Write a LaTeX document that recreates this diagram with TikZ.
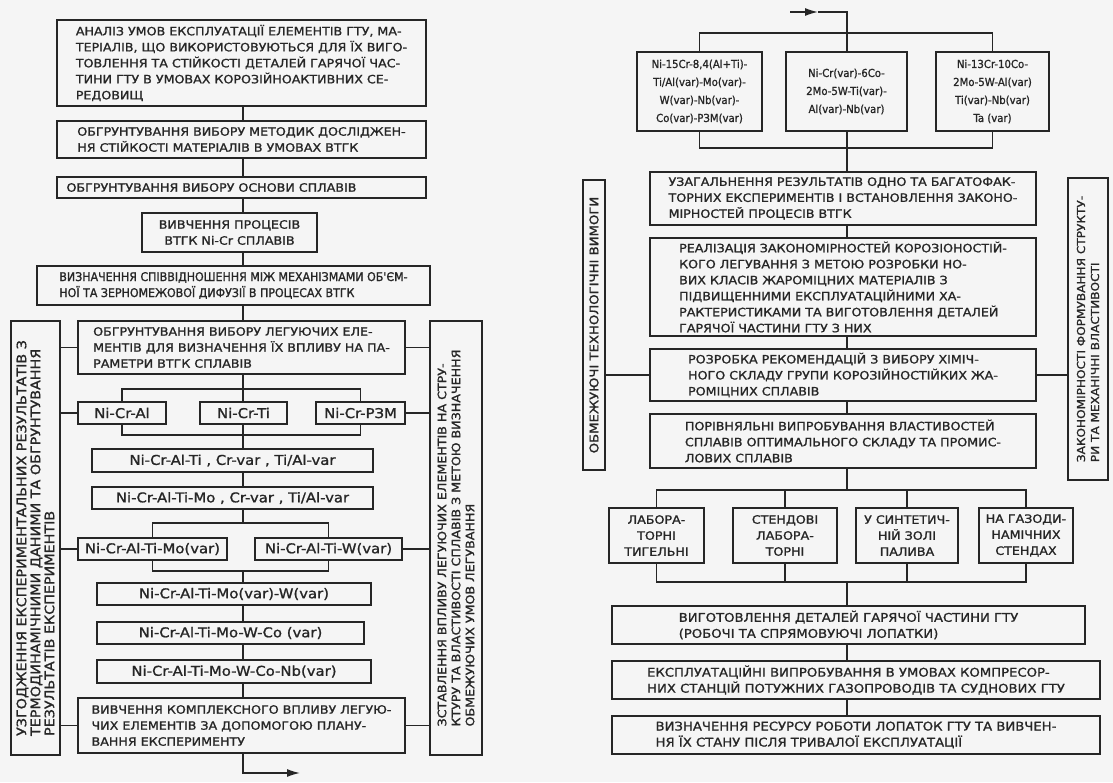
\documentclass[tikz,border=0pt]{standalone}
\usepackage{fontspec}
\newfontfamily\stencil[FakeStretch=1.1, FakeBold=1.2]{DejaVu Sans}
\newfontfamily\stencilnarrow[FakeStretch=0.92, FakeBold=1.2]{DejaVu Sans}
\usepackage{xcolor}
\colorlet{colorInk}{black!85}
\colorlet{colorPaper}{black!4}
\usepackage{tikz}
\usetikzlibrary{arrows.meta, positioning}
\tikzset{
  stage/.style={draw=colorInk, text=colorInk, line width=1.4pt, inner sep=0pt, align=left, font=\stencil\fontsize{11.5}{16}\selectfont},
  alloy/.style={stage, align=center, font=\stencil\fontsize{13.5}{15}\selectfont},
  recipe/.style={stage, align=center, font=\stencilnarrow\fontsize{11}{18}\selectfont},
  sidebar/.style={stage, rotate=90, font=\stencil\fontsize{13}{14}\selectfont},
}

\begin{document}
\begin{tikzpicture}[x=1pt, y=-1pt, >={Latex[length=13pt,width=8pt]}, color=colorInk, line width=1.4pt]
\useasboundingbox[fill=colorPaper] (0,0) rectangle (1113,782);
% left column
\node[stage, minimum width=369pt, minimum height=86pt] (anal) at (241.5,63) {АНАЛІЗ УМОВ ЕКСПЛУАТАЦІЇ ЕЛЕМЕНТІВ ГТУ, МА-\\ТЕРІАЛІВ, ЩО ВИКОРИСТОВУЮТЬСЯ ДЛЯ ЇХ ВИГО-\\ТОВЛЕННЯ ТА СТІЙКОСТІ ДЕТАЛЕЙ ГАРЯЧОЇ ЧАС-\\ТИНИ ГТУ В УМОВАХ КОРОЗІЙНОАКТИВНИХ СЕ-\\РЕДОВИЩ};
\node[stage, minimum width=369pt, minimum height=37pt] (metod) at (241.5,139.5) {ОБГРУНТУВАННЯ ВИБОРУ МЕТОДИК ДОСЛІДЖЕН-\\НЯ СТІЙКОСТІ МАТЕРІАЛІВ В УМОВАХ ВТГК};
\node[stage, minimum width=369pt, minimum height=21pt] (osn) at (241.5,187.5) {ОБГРУНТУВАННЯ ВИБОРУ ОСНОВИ СПЛАВІВ\hspace{60pt}};
\node[stage, align=center, minimum width=175pt, minimum height=39pt] (proc) at (229.5,232.5) {ВИВЧЕННЯ ПРОЦЕСІВ\\ВТГК Ni-Cr СПЛАВІВ};
\node[stage, font=\stencilnarrow\fontsize{12}{16}\selectfont, minimum width=393pt, minimum height=39pt] (dyf) at (233.5,285.5) {ВИЗНАЧЕННЯ СПІВВІДНОШЕННЯ МІЖ МЕХАНІЗМАМИ ОБ'ЄМ-\\НОЇ ТА ЗЕРНОМЕЖОВОЇ ДИФУЗІЇ В ПРОЦЕСАХ ВТГК};
\node[stage, minimum width=327pt, minimum height=53pt] (leg) at (241.5,347.5) {ОБГРУНТУВАННЯ ВИБОРУ ЛЕГУЮЧИХ ЕЛЕ-\\МЕНТІВ ДЛЯ ВИЗНАЧЕННЯ ЇХ ВПЛИВУ НА ПА-\\РАМЕТРИ ВТГК СПЛАВІВ};
\node[alloy, minimum width=88pt, minimum height=22pt] (nicral) at (122,413) {Ni-Cr-Al};
\node[alloy, minimum width=87pt, minimum height=22pt] (nicrti) at (243.5,413) {Ni-Cr-Ti};
\node[alloy, minimum width=89pt, minimum height=22pt] (nicrrzm) at (360.5,413) {Ni-Cr-РЗМ};
\node[alloy, minimum width=281pt, minimum height=23pt] (tial) at (232.5,460.5) {Ni-Cr-Al-Ti , Cr-var , Ti/Al-var};
\node[alloy, minimum width=281pt, minimum height=22pt] (mo) at (232.5,498) {Ni-Cr-Al-Ti-Mo , Cr-var , Ti/Al-var};
\node[alloy, minimum width=149pt, minimum height=22pt] (movar) at (152.5,549) {Ni-Cr-Al-Ti-Mo(var)};
\node[alloy, minimum width=147pt, minimum height=22pt] (wvar) at (328.5,549) {Ni-Cr-Al-Ti-W(var)};
\node[alloy, minimum width=274pt, minimum height=22pt] (mow) at (234,594) {Ni-Cr-Al-Ti-Mo(var)-W(var)};
\node[alloy, minimum width=267pt, minimum height=22pt] (moco) at (230.5,633) {Ni-Cr-Al-Ti-Mo-W-Co (var)};
\node[alloy, minimum width=274pt, minimum height=23pt] (monb) at (234,671.5) {Ni-Cr-Al-Ti-Mo-W-Co-Nb(var)};
\node[stage, minimum width=327pt, minimum height=55pt] (plan) at (241.5,725.5) {ВИВЧЕННЯ КОМПЛЕКСНОГО ВПЛИВУ ЛЕГУЮ-\\ЧИХ ЕЛЕМЕНТІВ ЗА ДОПОМОГОЮ ПЛАНУ-\\ВАННЯ ЕКСПЕРИМЕНТУ};
\node[sidebar, minimum width=434pt, minimum height=49pt] (agree) at (35.5,538) {УЗГОДЖЕННЯ ЕКСПЕРИМЕНТАЛЬНИХ РЕЗУЛЬТАТІВ З\\ТЕРМОДИНАМІЧНИМИ ДАНИМИ ТА ОБГРУНТУВАННЯ\\РЕЗУЛЬТАТІВ ЕКСПЕРИМЕНТІВ};
\node[sidebar, font=\stencil\fontsize{11.5}{14}\selectfont, minimum width=434pt, minimum height=52pt] (limit) at (456,538) {ЗСТАВЛЕННЯ ВПЛИВУ ЛЕГУЮЧИХ ЕЛЕМЕНТІВ НА СТРУ-\\КТУРУ ТА ВЛАСТИВОСТІ СПЛАВІВ З МЕТОЮ ВИЗНАЧЕННЯ\\ОБМЕЖУЮЧИХ УМОВ ЛЕГУВАННЯ};
\coordinate (sp) at (243,0);
\coordinate (br1t) at (243,389);
\coordinate (br1b) at (243,435);
\coordinate (br2t) at (243,523);
\coordinate (br2b) at (243,571);
\coordinate (outa) at (300,773);
\draw (anal.south -| sp) -- (metod.north -| sp);
\draw (metod.south -| sp) -- (osn.north -| sp);
\draw (osn.south -| sp) -- (proc.north -| sp);
\draw (proc.south -| sp) -- (dyf.north -| sp);
\draw (dyf.south -| sp) -- (leg.north -| sp);
\draw (leg.south -| sp) -- (nicrti.north -| sp);
\draw (nicral.north) |- (br1t) -| (nicrrzm.north);
\draw (nicral.south) |- (br1b) -| (nicrrzm.south);
\draw (nicrti.south -| sp) -- (tial.north -| sp);
\draw (tial.south -| sp) -- (mo.north -| sp);
\draw (mo.south -| sp) -- (br2t);
\draw (movar.north) |- (br2t) -| (wvar.north);
\draw (movar.south) |- (br2b) -| (wvar.south);
\draw (br2b) -- (mow.north -| sp);
\draw (mow.south -| sp) -- (moco.north -| sp);
\draw (moco.south -| sp) -- (monb.north -| sp);
\draw (monb.south -| sp) -- (plan.north -| sp);
\draw[->] (plan.south -| sp) |- (outa);
\draw (agree.south |- leg.west) -- (leg.west);
\draw (agree.south |- nicral.west) -- (nicral.west);
\draw (agree.south |- movar.west) -- (movar.west);
\draw (agree.south |- plan.west) -- (plan.west);
\draw (leg.east) -- (leg.east -| limit.north);
\draw (nicrrzm.east) -- (nicrrzm.east -| limit.north);
\draw (wvar.east) -- (wvar.east -| limit.north);
\draw (plan.east) -- (plan.east -| limit.north);
% right column
\node[recipe, minimum width=125pt, minimum height=79pt] (base15) at (699.5,91.5) {Ni-15Cr-8,4(Al+Ti)-\\Ti/Al(var)-Mo(var)-\\W(var)-Nb(var)-\\Co(var)-РЗМ(var)};
\node[recipe, minimum width=121pt, minimum height=79pt] (base6) at (846.5,91.5) {Ni-Cr(var)-6Co-\\2Mo-5W-Ti(var)-\\Al(var)-Nb(var)};
\node[recipe, minimum width=113pt, minimum height=79pt] (base13) at (992.5,91.5) {Ni-13Cr-10Co-\\2Mo-5W-Al(var)\\Ti(var)-Nb(var)\\Ta (var)};
\node[stage, minimum width=386pt, minimum height=53pt] (gen) at (843,198.5) {УЗАГАЛЬНЕННЯ РЕЗУЛЬТАТІВ ОДНО ТА БАГАТОФАК-\\ТОРНИХ ЕКСПЕРИМЕНТІВ І ВСТАНОВЛЕННЯ ЗАКОНО-\\МІРНОСТЕЙ ПРОЦЕСІВ ВТГК};
\node[stage, minimum width=386pt, minimum height=98pt] (real) at (843,287) {РЕАЛІЗАЦІЯ ЗАКОНОМІРНОСТЕЙ КОРОЗІОНОСТІЙ-\\КОГО ЛЕГУВАННЯ З МЕТОЮ РОЗРОБКИ НО-\\ВИХ КЛАСІВ ЖАРОМІЦНИХ МАТЕРІАЛІВ З\\ПІДВИЩЕННИМИ ЕКСПЛУАТАЦІЙНИМИ ХА-\\РАКТЕРИСТИКАМИ ТА ВИГОТОВЛЕННЯ ДЕТАЛЕЙ\\ГАРЯЧОЇ ЧАСТИНИ ГТУ З НИХ};
\node[stage, minimum width=386pt, minimum height=52pt] (rec) at (843,375) {РОЗРОБКА РЕКОМЕНДАЦІЙ З ВИБОРУ ХІМІЧ-\\НОГО СКЛАДУ ГРУПИ КОРОЗІЙНОСТІЙКИХ ЖА-\\РОМІЦНИХ СПЛАВІВ};
\node[stage, minimum width=386pt, minimum height=54pt] (comp) at (843,441) {ПОРІВНЯЛЬНІ ВИПРОБУВАННЯ ВЛАСТИВОСТЕЙ\\СПЛАВІВ ОПТИМАЛЬНОГО СКЛАДУ ТА ПРОМИС-\\ЛОВИХ СПЛАВІВ};
\node[stage, align=center, minimum width=95pt, minimum height=55pt] (lab) at (656.5,535.5) {ЛАБОРА-\\ТОРНІ\\ТИГЕЛЬНІ};
\node[stage, align=center, minimum width=104pt, minimum height=55pt] (stand) at (785,535.5) {СТЕНДОВІ\\ЛАБОРА-\\ТОРНІ};
\node[stage, align=center, minimum width=102pt, minimum height=55pt] (ash) at (907,535.5) {У СИНТЕТИЧ-\\НІЙ ЗОЛІ\\ПАЛИВА};
\node[stage, align=center, minimum width=94pt, minimum height=55pt] (gas) at (1026,535.5) {НА ГАЗОДИ-\\НАМІЧНИХ\\СТЕНДАХ};
\node[stage, font=\stencil\fontsize{12}{16}\selectfont, minimum width=473pt, minimum height=38pt] (manuf) at (848.5,625) {ВИГОТОВЛЕННЯ ДЕТАЛЕЙ ГАРЯЧОЇ ЧАСТИНИ ГТУ\hspace{60pt}\\(РОБОЧІ ТА СПРЯМОВУЮЧІ ЛОПАТКИ)};
\node[stage, font=\stencil\fontsize{12}{16}\selectfont, minimum width=488pt, minimum height=38pt] (oper) at (856,680) {ЕКСПЛУАТАЦІЙНІ ВИПРОБУВАННЯ В УМОВАХ КОМПРЕСОР-\\НИХ СТАНЦІЙ ПОТУЖНИХ ГАЗОПРОВОДІВ ТА СУДНОВИХ ГТУ};
\node[stage, font=\stencil\fontsize{12}{16}\selectfont, minimum width=488pt, minimum height=38pt] (life) at (856,735) {ВИЗНАЧЕННЯ РЕСУРСУ РОБОТИ ЛОПАТОК ГТУ ТА ВИВЧЕН-\\НЯ ЇХ СТАНУ ПІСЛЯ ТРИВАЛОЇ ЕКСПЛУАТАЦІЇ};
\node[sidebar, font=\stencil\fontsize{12}{14}\selectfont, minimum width=290pt, minimum height=22pt] (techreq) at (594,325) {ОБМЕЖУЮЧІ ТЕХНОЛОГІЧНІ ВИМОГИ};
\node[sidebar, font=\stencil\fontsize{11}{14}\selectfont, minimum width=302pt, minimum height=40pt] (struct) at (1088,329) {ЗАКОНОМІРНОСТІ ФОРМУВАННЯ СТРУКТУ-\\РИ ТА МЕХАНІЧНІ ВЛАСТИВОСТІ};
\coordinate (sp2) at (847,0);
\coordinate (ina) at (790,12);
\coordinate (inm) at (818,12);
\coordinate (pt) at (847,33);
\coordinate (pb) at (847,148);
\coordinate (tt) at (847,490);
\coordinate (tb) at (847,582);
\draw[->] (ina) -- (inm);
\draw (inm) -| (pt);
\draw (base15.north) |- (pt) -| (base13.north);
\draw (pt) -- (base6.north -| sp2);
\draw (base15.south) |- (pb) -| (base13.south);
\draw (base6.south -| sp2) -- (pb);
\draw (pb) -- (gen.north -| sp2);
\draw (gen.south -| sp2) -- (real.north -| sp2);
\draw (real.south -| sp2) -- (rec.north -| sp2);
\draw (rec.south -| sp2) -- (comp.north -| sp2);
\draw (comp.south -| sp2) -- (tt);
\draw (lab.north) |- (tt) -| (gas.north);
\draw (stand.north) -- (stand.north |- tt);
\draw (ash.north) -- (ash.north |- tt);
\draw (lab.south) |- (tb) -| (gas.south);
\draw (stand.south) -- (stand.south |- tb);
\draw (ash.south) -- (ash.south |- tb);
\draw (tb) -- (manuf.north -| sp2);
\draw (manuf.south -| sp2) -- (oper.north -| sp2);
\draw (oper.south -| sp2) -- (life.north -| sp2);
\draw (techreq.south |- rec.west) -- (rec.west);
\draw (rec.east) -- (rec.east -| struct.north);
\end{tikzpicture}
\end{document}
